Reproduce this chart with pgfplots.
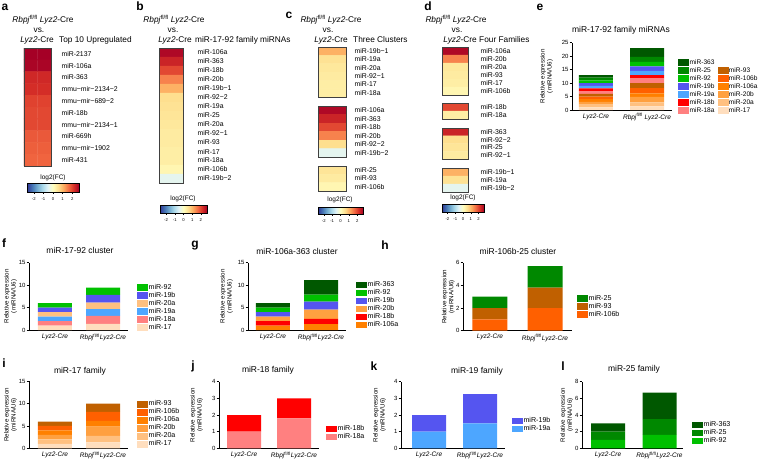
\documentclass[border=0pt]{standalone}
\usepackage{pgfplots}
\pgfplotsset{compat=1.18}
\usepackage{fontspec}
\setmainfont{Liberation Sans}
\usetikzlibrary{calc}

\definecolor{c17}{RGB}{255,222,190}
\definecolor{c20a}{RGB}{255,192,128}
\definecolor{c20b}{RGB}{255,160,64}
\definecolor{c106a}{RGB}{255,128,0}
\definecolor{c106b}{RGB}{255,96,0}
\definecolor{c93}{RGB}{192,96,0}
\definecolor{c18a}{RGB}{255,128,128}
\definecolor{c18b}{RGB}{255,0,0}
\definecolor{c19a}{RGB}{77,166,255}
\definecolor{c19b}{RGB}{85,85,240}
\definecolor{c92}{RGB}{0,192,0}
\definecolor{c25}{RGB}{0,136,0}
\definecolor{c363}{RGB}{0,88,0}

\newcommand\fT{\fontsize{8.3}{9}\selectfont}
\newcommand\fB{\fontsize{8.5}{9}\selectfont}
\newcommand\fL{\fontsize{6.9}{7.5}\selectfont}
\newcommand\fG{\fontsize{7.1}{7.5}\selectfont}
\newcommand\fGe{\fontsize{6.6}{7.5}\selectfont}
\newcommand\fX{\fontsize{6.5}{7.2}\selectfont}
\newcommand\fYL{\fontsize{6.2}{7}\selectfont}
\newcommand\fY{\fontsize{6}{6.5}\selectfont}
\newcommand\fC{\fontsize{4.2}{4.5}\selectfont}
\newcommand\fP{\fontsize{12}{12}\selectfont\bfseries}
\newcommand\lgi[1]{\addlegendimage{legend image code/.code={\fill[#1] (0pt,-2.75pt) rectangle (10pt,2.75pt);}}}
\newcommand\lgblank{\addlegendimage{legend image code/.code={}}}
\newcommand\RL{\textit{Rbpj}\textsuperscript{fl/fl} \textit{Lyz2}-Cre}

\pgfplotsset{
  colormap={rdylbu}{rgb255=(49,54,149) rgb255=(69,117,180) rgb255=(116,173,209) rgb255=(171,217,233) rgb255=(224,243,248) rgb255=(255,255,191) rgb255=(254,224,144) rgb255=(253,174,97) rgb255=(244,109,67) rgb255=(215,48,39) rgb255=(165,0,38)},
  hm/.style={
    scale only axis, anchor=north west, axis on top,
    enlargelimits=false,
    xmin=-0.5, xmax=1.5, ymin=-0.5, y dir=reverse,
    xtick=\empty, ytick pos=right, yticklabel pos=right,
    major tick length=0pt,
    yticklabel style={font=\fL, xshift=#1},
    colormap name=rdylbu, point meta min=-2.7, point meta max=2.7,
    axis line style={draw=black!75, line width=0.9pt},
  },
  cbs/.style={
    anchor=north west, scale only axis,
    xtick={-2,-1,0,1,2}, xticklabel style={font=\fC},
    /pgf/number format/assume math mode=true,
    xtick pos=bottom, tick align=outside, major tick length=1.5pt,
    tick style={line width=0.4pt, black},
    axis line style={line width=0.4pt},
  },
  ylab/.style={every axis y label/.style={at={(axis description cs:#1,0.5)}, rotate=90, anchor=south, align=center, font=\fYL, inner sep=0pt}},
  bc/.style={
    scale only axis, anchor=south west, clip=false,
    ybar stacked, bar width=34pt,
    ymin=0,
    axis x line*=bottom, axis y line*=left,
    axis line style={line width=0.6pt},
    xtick={0,1},
    xticklabels={\textit{Lyz2-Cre},\textit{Rbpj}\textsuperscript{fl/fl}\textit{Lyz2-Cre}},
    xticklabel style={font=\fX, inner sep=1pt},
    yticklabel style={font=\fY, inner sep=0.8pt},
    /pgf/number format/assume math mode=true,
    tick align=outside, major tick length=2.5pt,
    tick style={line width=0.6pt, black},
    xtick style={draw=none},
    ylabel={Relative expression\\(miRNA/U6)},
    legend style={draw=none, fill=none, anchor=north west, inner sep=0pt, font=\fG,
      nodes={inner sep=1pt, text height=4.8pt, text depth=1.2pt}, row sep=0pt},
    legend cell align=left,
  },
}

\begin{document}
\begin{tikzpicture}[T/.style={inner sep=0pt}]
\path[use as bounding box] (0pt,0pt) rectangle (759pt,-460pt);

% ---------- panel letters ----------
\node[T,font=\fP] at (5pt,-7pt) {a};
\node[T,font=\fP] at (140pt,-6pt) {b};
\node[T,font=\fP] at (289pt,-15pt) {c};
\node[T,font=\fP] at (428pt,-6pt) {d};
\node[T,font=\fP] at (540pt,-7pt) {e};
\node[T,font=\fP] at (4pt,-243pt) {f};
\node[T,font=\fP] at (195pt,-246pt) {g};
\node[T,font=\fP] at (385pt,-245pt) {h};
\node[T,font=\fP] at (4pt,-363pt) {i};
\node[T,font=\fP] at (193pt,-366pt) {j};
\node[T,font=\fP] at (374pt,-366pt) {k};
\node[T,font=\fP] at (563pt,-366pt) {l};

% ---------- heatmap headers ----------
\node[T,font=\fT] at (43pt,-20pt) {\RL};
\node[T,font=\fT] at (39pt,-30pt) {vs.};
\node[T,font=\fT,anchor=east] at (54pt,-40pt) {\textit{Lyz2}-Cre};
\node[T,font=\fT,anchor=west] at (59pt,-40pt) {Top 10 Upregulated};

\node[T,font=\fT] at (174pt,-20pt) {\RL};
\node[T,font=\fT] at (173pt,-30pt) {vs.};
\node[T,font=\fT,anchor=east] at (192pt,-40pt) {\textit{Lyz2}-Cre};
\node[T,font=\fT,anchor=west] at (195pt,-40pt) {miR-17-92 family miRNAs};

\node[T,font=\fT] at (331pt,-20pt) {\RL};
\node[T,font=\fT] at (328pt,-30pt) {vs.};
\node[T,font=\fT,anchor=east] at (348pt,-40pt) {\textit{Lyz2}-Cre};
\node[T,font=\fT,anchor=west] at (353pt,-40pt) {Three Clusters};

\node[T,font=\fT] at (456pt,-20pt) {\RL};
\node[T,font=\fT] at (457pt,-30pt) {vs.};
\node[T,font=\fT,anchor=east] at (477pt,-40pt) {\textit{Lyz2}-Cre};
\node[T,font=\fT,anchor=west] at (479pt,-40pt) {Four Families};

\node[T,font=\fX] at (53pt,-178pt) {log2(FC)};
\node[T,font=\fX] at (183pt,-199pt) {log2(FC)};
\node[T,font=\fX] at (340pt,-200pt) {log2(FC)};
\node[T,font=\fX] at (463pt,-198pt) {log2(FC)};

% ---------- heatmap a ----------
\begin{axis}[hm=7pt, at={(24pt,-48pt)}, width=27pt, height=118pt, ymax=9.5, ytick={0,...,9},
  yticklabels={miR-2137,miR-106a,miR-363,mmu−mir−2134−2,mmu−mir−689−2,miR-18b,mmu−mir−2134−1,miR-669h,mmu−mir−1902,miR-431},
  colorbar horizontal,
  colorbar style={cbs, at={($(parent axis.south west)+(3pt,-9pt)$)}, width=52pt, height=9pt}]
\addplot[matrix plot*, mesh/cols=2, point meta=explicit] coordinates {
(0,0)[2.7] (1,0)[2.7] (0,1)[2.65] (1,1)[2.65] (0,2)[2.25] (1,2)[2.25] (0,3)[2.2] (1,3)[2.2]
(0,4)[2.0] (1,4)[2.0] (0,5)[1.95] (1,5)[1.95] (0,6)[1.95] (1,6)[1.95] (0,7)[1.8] (1,7)[1.8]
(0,8)[1.75] (1,8)[1.75] (0,9)[1.7] (1,9)[1.7]};
\end{axis}

% ---------- heatmap b ----------
\begin{axis}[hm=11pt, at={(159pt,-48pt)}, width=24pt, height=135pt, ymax=14.5, ytick={0,...,14},
  yticklabels={miR-106a,miR-363,miR-18b,miR-20b,miR-19b−1,miR-92−2,miR-19a,miR-25,miR-20a,miR-92−1,miR-93,miR-17,miR-18a,miR-106b,miR-19b−2},
  colorbar horizontal,
  colorbar style={cbs, at={($(parent axis.south west)+(1pt,-14pt)$)}, width=47pt, height=8pt}]
\addplot[matrix plot*, mesh/cols=2, point meta=explicit] coordinates {
(0,0)[2.6] (1,0)[2.6] (0,1)[2.3] (1,1)[2.3] (0,2)[1.95] (1,2)[1.95] (0,3)[1.45] (1,3)[1.45]
(0,4)[1.05] (1,4)[1.05] (0,5)[0.55] (1,5)[0.55] (0,6)[0.5] (1,6)[0.5] (0,7)[0.45] (1,7)[0.45]
(0,8)[0.4] (1,8)[0.4] (0,9)[0.35] (1,9)[0.35] (0,10)[0.35] (1,10)[0.35] (0,11)[0.3] (1,11)[0.3]
(0,12)[0.3] (1,12)[0.3] (0,13)[0.15] (1,13)[0.15] (0,14)[-0.45] (1,14)[-0.45]};
\end{axis}

% ---------- heatmap c ----------
\begin{axis}[hm=5pt, at={(318pt,-47pt)}, width=28pt, height=50pt, ymax=5.5, ytick={0,...,5},
  yticklabels={miR-19b−1,miR-19a,miR-20a,miR-92−1,miR-17,miR-18a}]
\addplot[matrix plot*, mesh/cols=2, point meta=explicit] coordinates {
(0,0)[1.05] (1,0)[1.05] (0,1)[0.5] (1,1)[0.5] (0,2)[0.4] (1,2)[0.4]
(0,3)[0.35] (1,3)[0.35] (0,4)[0.3] (1,4)[0.3] (0,5)[0.3] (1,5)[0.3]};
\end{axis}
\begin{axis}[hm=5pt, at={(318pt,-106pt)}, width=28pt, height=51pt, ymax=5.5, ytick={0,...,5},
  yticklabels={miR-106a,miR-363,miR-18b,miR-20b,miR-92−2,miR-19b−2}]
\addplot[matrix plot*, mesh/cols=2, point meta=explicit] coordinates {
(0,0)[2.6] (1,0)[2.6] (0,1)[2.3] (1,1)[2.3] (0,2)[1.95] (1,2)[1.95]
(0,3)[1.45] (1,3)[1.45] (0,4)[0.55] (1,4)[0.55] (0,5)[-0.45] (1,5)[-0.45]};
\end{axis}
\begin{axis}[hm=5pt, at={(318pt,-166pt)}, width=28pt, height=25pt, ymax=2.5, ytick={0,...,2},
  yticklabels={miR-25,miR-93,miR-106b},
  colorbar horizontal,
  colorbar style={cbs, at={($(parent axis.south west)+(0pt,-8pt)$)}, width=45pt, height=7pt}]
\addplot[matrix plot*, mesh/cols=2, point meta=explicit] coordinates {
(0,0)[0.45] (1,0)[0.45] (0,1)[0.35] (1,1)[0.35] (0,2)[0.15] (1,2)[0.15]};
\end{axis}

% ---------- heatmap d ----------
\begin{axis}[hm=9pt, at={(442pt,-47pt)}, width=26pt, height=48pt, ymax=5.5, ytick={0,...,5},
  yticklabels={miR-106a,miR-20b,miR-20a,miR-93,miR-17,miR-106b}]
\addplot[matrix plot*, mesh/cols=2, point meta=explicit] coordinates {
(0,0)[2.6] (1,0)[2.6] (0,1)[1.45] (1,1)[1.45] (0,2)[0.4] (1,2)[0.4]
(0,3)[0.35] (1,3)[0.35] (0,4)[0.3] (1,4)[0.3] (0,5)[0.15] (1,5)[0.15]};
\end{axis}
\begin{axis}[hm=9pt, at={(442pt,-103pt)}, width=26pt, height=16pt, ymax=1.5, ytick={0,1},
  yticklabels={miR-18b,miR-18a}]
\addplot[matrix plot*, mesh/cols=2, point meta=explicit] coordinates {
(0,0)[1.95] (1,0)[1.95] (0,1)[0.3] (1,1)[0.3]};
\end{axis}
\begin{axis}[hm=9pt, at={(442pt,-128pt)}, width=26pt, height=31pt, ymax=3.5, ytick={0,...,3},
  yticklabels={miR-363,miR-92−2,miR-25,miR-92−1}]
\addplot[matrix plot*, mesh/cols=2, point meta=explicit] coordinates {
(0,0)[2.3] (1,0)[2.3] (0,1)[0.55] (1,1)[0.55] (0,2)[0.45] (1,2)[0.45] (0,3)[0.35] (1,3)[0.35]};
\end{axis}
\begin{axis}[hm=9pt, at={(442pt,-168pt)}, width=26pt, height=24pt, ymax=2.5, ytick={0,...,2},
  yticklabels={miR-19b−1,miR-19a,miR-19b−2},
  colorbar horizontal,
  colorbar style={cbs, at={($(parent axis.south west)+(0pt,-4pt)$)}, width=42pt, height=8pt}]
\addplot[matrix plot*, mesh/cols=2, point meta=explicit] coordinates {
(0,0)[1.05] (1,0)[1.05] (0,1)[0.5] (1,1)[0.5] (0,2)[-0.45] (1,2)[-0.45]};
\end{axis}

% ---------- bar chart titles ----------
\node[T,font=\fB] at (621pt,-30pt) {miR-17-92 family miRNAs};
\node[T,font=\fB] at (80pt,-250pt) {miR-17-92 cluster};
\node[T,font=\fB] at (297pt,-251pt) {miR-106a-363 cluster};
\node[T,font=\fB] at (518pt,-251pt) {miR-106b-25 cluster};
\node[T,font=\fB] at (80pt,-371pt) {miR-17 family};
\node[T,font=\fB] at (268pt,-370pt) {miR-18 family};
\node[T,font=\fB] at (477pt,-371pt) {miR-19 family};
\node[T,font=\fB] at (634pt,-369pt) {miR-25 family};

% ---------- e ----------
\begin{axis}[bc, ylab=-0.19, at={(572pt,-110pt)}, width=100pt, height=67.3pt, xmin=-0.47, xmax=1.49,
  ymax=25, ytick={0,5,...,25},
  xticklabels={\textit{Lyz2-Cre},\textit{Rbpj}\textsuperscript{fl/fl} \textit{Lyz2-Cre}},
  legend columns=2,
  legend style={at={(1.06,0.771)}, font=\fGe, /tikz/every even column/.append style={column sep=2pt}}]
\lgi{c363}\addlegendentry{miR-363}
\lgblank\addlegendentry{}
\lgi{c25}\addlegendentry{miR-25}
\lgi{c93}\addlegendentry{miR-93}
\lgi{c92}\addlegendentry{miR-92}
\lgi{c106b}\addlegendentry{miR-106b}
\lgi{c19b}\addlegendentry{miR-19b}
\lgi{c106a}\addlegendentry{miR-106a}
\lgi{c19a}\addlegendentry{miR-19a}
\lgi{c20b}\addlegendentry{miR-20b}
\lgi{c18b}\addlegendentry{miR-18b}
\lgi{c20a}\addlegendentry{miR-20a}
\lgi{c18a}\addlegendentry{miR-18a}
\lgi{c17}\addlegendentry{miR-17}
\addplot[fill=c17, draw=none] coordinates {(0,1) (1,1.35)};
\addplot[fill=c20a, draw=none] coordinates {(0,1) (1,1.45)};
\addplot[fill=c20b, draw=none] coordinates {(0,1) (1,2.05)};
\addplot[fill=c106a, draw=none] coordinates {(0,1) (1,1.3)};
\addplot[fill=c106b, draw=none] coordinates {(0,1) (1,2.0)};
\addplot[fill=c93, draw=none] coordinates {(0,1) (1,1.85)};
\addplot[fill=c18a, draw=none] coordinates {(0,1) (1,1.8)};
\addplot[fill=c18b, draw=none] coordinates {(0,1) (1,1.2)};
\addplot[fill=c19a, draw=none] coordinates {(0,1) (1,1.5)};
\addplot[fill=c19b, draw=none] coordinates {(0,1) (1,1.75)};
\addplot[fill=c92, draw=none] coordinates {(0,1) (1,1.6)};
\addplot[fill=c25, draw=none] coordinates {(0,1) (1,1.9)};
\addplot[fill=c363, draw=none] coordinates {(0,1) (1,3.2)};
\end{axis}

% ---------- f ----------
\begin{axis}[bc, ylab=-0.121, at={(29pt,-330pt)}, width=99pt, height=67.3pt, xmin=-0.54, xmax=1.52,
  ymax=15, ytick={0,5,10,15},
  legend style={at={(1.091,0.698)}}]
\lgi{c92}\addlegendentry{miR-92}
\lgi{c19b}\addlegendentry{miR-19b}
\lgi{c20a}\addlegendentry{miR-20a}
\lgi{c19a}\addlegendentry{miR-19a}
\lgi{c18a}\addlegendentry{miR-18a}
\lgi{c17}\addlegendentry{miR-17}
\addplot[fill=c17, draw=none] coordinates {(0,1) (1,1.35)};
\addplot[fill=c18a, draw=none] coordinates {(0,1) (1,1.8)};
\addplot[fill=c19a, draw=none] coordinates {(0,1) (1,1.5)};
\addplot[fill=c20a, draw=none] coordinates {(0,1) (1,1.45)};
\addplot[fill=c19b, draw=none] coordinates {(0,1) (1,1.75)};
\addplot[fill=c92, draw=none] coordinates {(0,1) (1,1.6)};
\end{axis}

% ---------- g ----------
\begin{axis}[bc, ylab=-0.153, at={(248pt,-330pt)}, width=98pt, height=67.3pt, xmin=-0.52, xmax=1.52,
  ymax=15, ytick={0,5,10,15},
  legend style={at={(1.102,0.737)}}]
\lgi{c363}\addlegendentry{miR-363}
\lgi{c92}\addlegendentry{miR-92}
\lgi{c19b}\addlegendentry{miR-19b}
\lgi{c20b}\addlegendentry{miR-20b}
\lgi{c18b}\addlegendentry{miR-18b}
\lgi{c106a}\addlegendentry{miR-106a}
\addplot[fill=c106a, draw=none] coordinates {(0,1) (1,1.3)};
\addplot[fill=c18b, draw=none] coordinates {(0,1) (1,1.2)};
\addplot[fill=c20b, draw=none] coordinates {(0,1) (1,2.05)};
\addplot[fill=c19b, draw=none] coordinates {(0,1) (1,1.75)};
\addplot[fill=c92, draw=none] coordinates {(0,1) (1,1.6)};
\addplot[fill=c363, draw=none] coordinates {(0,1) (1,3.2)};
\end{axis}

% ---------- h ----------
\begin{axis}[bc, ylab=-0.075, at={(463pt,-330.7pt)}, width=109pt, height=68pt, xmin=-0.49, xmax=1.49,
  bar width=35pt, ymax=6, ytick={0,2,4,6},
  legend style={at={(1.046,0.538)}}]
\lgi{c25}\addlegendentry{miR-25}
\lgi{c93}\addlegendentry{miR-93}
\lgi{c106b}\addlegendentry{miR-106b}
\addplot[fill=c106b, draw=none] coordinates {(0,1) (1,2.0)};
\addplot[fill=c93, draw=none] coordinates {(0,1) (1,1.8)};
\addplot[fill=c25, draw=none] coordinates {(0,1) (1,1.9)};
\end{axis}

% ---------- i ----------
\begin{axis}[bc, ylab=-0.121, at={(29pt,-448.3pt)}, width=99pt, height=67pt, xmin=-0.54, xmax=1.52,
  ymax=15, ytick={0,5,10,15},
  legend style={at={(1.091,0.724)}}]
\lgi{c93}\addlegendentry{miR-93}
\lgi{c106b}\addlegendentry{miR-106b}
\lgi{c106a}\addlegendentry{miR-106a}
\lgi{c20b}\addlegendentry{miR-20b}
\lgi{c20a}\addlegendentry{miR-20a}
\lgi{c17}\addlegendentry{miR-17}
\addplot[fill=c17, draw=none] coordinates {(0,1) (1,1.35)};
\addplot[fill=c20a, draw=none] coordinates {(0,1) (1,1.45)};
\addplot[fill=c20b, draw=none] coordinates {(0,1) (1,2.05)};
\addplot[fill=c106a, draw=none] coordinates {(0,1) (1,1.3)};
\addplot[fill=c106b, draw=none] coordinates {(0,1) (1,2.0)};
\addplot[fill=c93, draw=none] coordinates {(0,1) (1,1.85)};
\end{axis}

% ---------- j ----------
\begin{axis}[bc, ylab=-0.16, at={(219pt,-448.3pt)}, width=100pt, height=66.6pt, xmin=-0.5, xmax=1.5,
  ymax=4, ytick={0,1,2,3,4},
  legend style={at={(1.07,0.358)}}]
\lgi{c18b}\addlegendentry{miR-18b}
\lgi{c18a}\addlegendentry{miR-18a}
\addplot[fill=c18a, draw=none] coordinates {(0,1) (1,1.8)};
\addplot[fill=c18b, draw=none] coordinates {(0,1) (1,1.2)};
\end{axis}

% ---------- k ----------
\begin{axis}[bc, ylab=-0.144, at={(401pt,-448.3pt)}, width=104pt, height=66.6pt, xmin=-0.549, xmax=1.49,
  ymax=4, ytick={0,1,2,3,4},
  legend style={at={(1.067,0.476)}}]
\lgi{c19b}\addlegendentry{miR-19b}
\lgi{c19a}\addlegendentry{miR-19a}
\addplot[fill=c19a, draw=none] coordinates {(0,1) (1,1.5)};
\addplot[fill=c19b, draw=none] coordinates {(0,1) (1,1.75)};
\end{axis}

% ---------- l ----------
\begin{axis}[bc, ylab=-0.085, at={(582pt,-448.3pt)}, width=101pt, height=66.6pt, xmin=-0.505, xmax=1.456,
  ymax=8, ytick={0,2,4,6,8},
  legend style={at={(1.089,0.417)}}]
\lgi{c363}\addlegendentry{miR-363}
\lgi{c25}\addlegendentry{miR-25}
\lgi{c92}\addlegendentry{miR-92}
\addplot[fill=c92, draw=none] coordinates {(0,1) (1,1.6)};
\addplot[fill=c25, draw=none] coordinates {(0,1) (1,1.9)};
\addplot[fill=c363, draw=none] coordinates {(0,1) (1,3.2)};
\end{axis}
\end{tikzpicture}
\end{document}
